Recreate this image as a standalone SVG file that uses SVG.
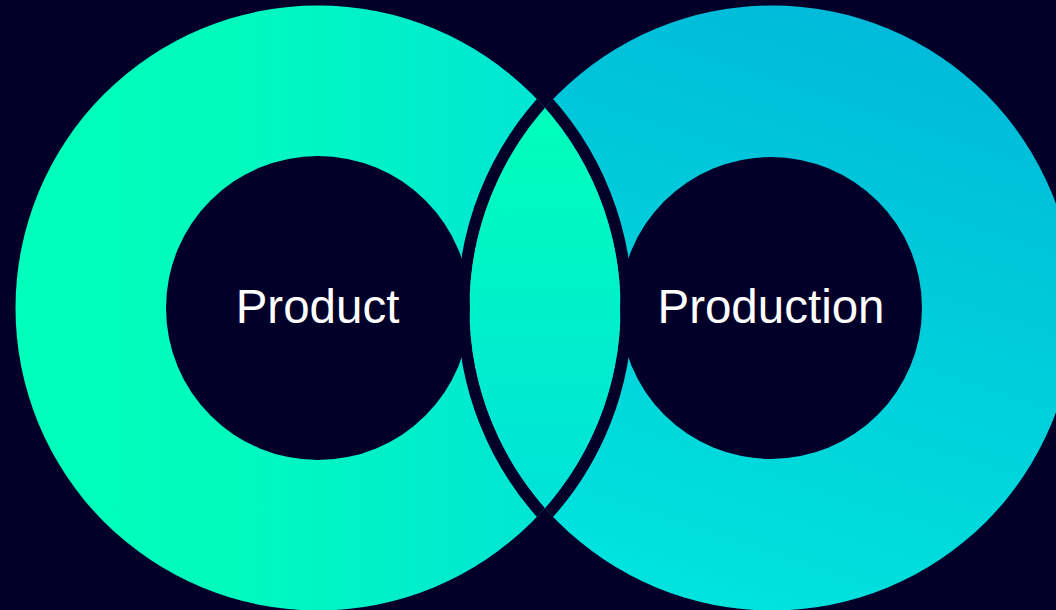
<svg xmlns="http://www.w3.org/2000/svg" width="1056" height="610" viewBox="0 0 1056 610">
  <defs>
    <linearGradient id="gLeft" gradientUnits="userSpaceOnUse" x1="15" y1="0" x2="621" y2="0">
      <stop offset="0" stop-color="#00FFBA"/>
      <stop offset="0.35" stop-color="#00FBBD"/>
      <stop offset="1" stop-color="#00E0DA"/>
    </linearGradient>
    <linearGradient id="gRight" gradientUnits="userSpaceOnUse" x1="900" y1="5" x2="700" y2="610">
      <stop offset="0" stop-color="#00B9D9"/>
      <stop offset="1" stop-color="#00E4DD"/>
    </linearGradient>
    <linearGradient id="gLens" gradientUnits="userSpaceOnUse" x1="0" y1="108" x2="0" y2="508">
      <stop offset="0" stop-color="#00FFBA"/>
      <stop offset="1" stop-color="#00E2D9"/>
    </linearGradient>
    <clipPath id="clipL"><circle cx="318" cy="308" r="302.5"/></clipPath>
    <clipPath id="clipR"><circle cx="772" cy="308" r="302.5"/></clipPath>
  </defs>
  <style>
    .bg { fill: #020029; }
    .hole { fill: #020029; }
    .band { fill: none; stroke: #020029; stroke-width: 12; }
    .label { font-family: "Liberation Sans", Arial, sans-serif; font-size: 47.5px; fill: #FFFFFF; text-anchor: middle; }
  </style>
  <rect class="bg" x="0" y="0" width="1056" height="610"/>
  <g id="product">
    <circle cx="318" cy="308" r="302.5" fill="url(#gLeft)"/>
  </g>
  <g id="production">
    <circle cx="772" cy="308" r="302.5" fill="url(#gRight)"/>
  </g>
  <g id="overlap">
    <circle class="band" cx="318" cy="308" r="308.5" clip-path="url(#clipR)"/>
    <circle class="band" cx="772" cy="308" r="308.5" clip-path="url(#clipL)"/>
    <circle cx="318" cy="308" r="302.5" fill="url(#gLens)" clip-path="url(#clipR)"/>
  </g>
  <g id="product-hole">
    <circle class="hole" cx="318" cy="308" r="152"/>
    <text class="label" x="317.5" y="322.5">Product</text>
  </g>
  <g id="production-hole">
    <circle class="hole" cx="771" cy="308" r="151"/>
    <text class="label" x="771" y="322.5">Production</text>
  </g>
</svg>
